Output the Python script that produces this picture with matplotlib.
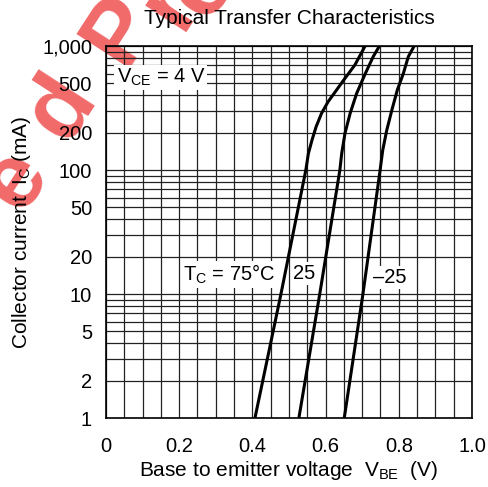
import matplotlib
matplotlib.use("Agg")
import matplotlib.pyplot as plt
from matplotlib.ticker import FixedLocator, FixedFormatter, LogLocator, NullFormatter

plt.rcParams['font.family'] = ['Liberation Sans', 'DejaVu Sans']
plt.rcParams['mathtext.fontset'] = 'custom'
plt.rcParams['mathtext.rm'] = 'Liberation Sans'
plt.rcParams['mathtext.it'] = 'Liberation Sans'

# Data
ic_75 = [1, 10, 100, 136, 175, 223, 287, 356, 442, 549, 703, 1000]
vbe_75 = [0.407, 0.478, 0.546, 0.553, 0.563, 0.574, 0.589, 0.607, 0.630, 0.653, 0.680, 0.708]
ic_25 = [1, 10, 100, 136, 198, 286, 416, 595, 820, 1000]
vbe_25 = [0.527, 0.584, 0.639, 0.644, 0.653, 0.667, 0.685, 0.708, 0.730, 0.747]
ic_m25 = [1, 10, 100, 144, 209, 304, 442, 595, 820, 1000]
vbe_m25 = [0.651, 0.702, 0.749, 0.756, 0.767, 0.781, 0.796, 0.812, 0.826, 0.842]

x_ticks = [0, 0.2, 0.4, 0.6, 0.8, 1.0]
x_tick_labels = ['0', '0.2', '0.4', '0.6', '0.8', '1.0']
y_ticks = [1, 2, 5, 10, 20, 50, 100, 200, 500, 1000]
y_tick_labels = ['1', '2', '5', '10', '20', '50', '100', '200', '500', '1,000']

# watermark letters (partially visible "…ed Pro…")
wm_letters = ['e', 'd', 'P', 'r', 'o']

FS = 14.5
FS_L = 15

fig = plt.figure(figsize=(4.89, 4.87), dpi=100, facecolor='white')
wm_pos = [(15, 180), (62, 108), (121, 30), (170, 4), (203, -14)]
for ch, (px, py) in zip(wm_letters, wm_pos):
    fig.text(px/489, 1-py/487, ch, color='#f05a5a', alpha=0.9, fontsize=66,
             fontweight='bold', rotation=57, rotation_mode='anchor',
             ha='center', va='center', zorder=1)

ax = fig.add_axes([106/489, 1-418/487, 366/489, 372/487])
ax.set_zorder(2)
ax.set_facecolor('none')
ax.set_xlim(0, 1.0)
ax.set_yscale('log')
ax.set_ylim(1, 1000)

# grid
ax.xaxis.set_minor_locator(FixedLocator([i*0.05 for i in range(21)]))
ax.yaxis.set_minor_locator(LogLocator(base=10, subs=range(1, 10)))
ax.yaxis.set_minor_formatter(NullFormatter())
ax.grid(True, which='minor', axis='both', color='#222222', lw=0.9)
ax.grid(True, which='major', axis='both', color='#222222', lw=0.9)

ax.xaxis.set_major_locator(FixedLocator(x_ticks))
ax.xaxis.set_major_formatter(FixedFormatter(x_tick_labels))
ax.yaxis.set_major_locator(FixedLocator(y_ticks))
ax.yaxis.set_major_formatter(FixedFormatter(y_tick_labels))
ax.tick_params(which='both', length=0)
ax.tick_params(axis='y', pad=10, labelsize=FS)
ax.tick_params(axis='x', pad=14, labelsize=FS)
for s in ax.spines.values():
    s.set_color('black')
    s.set_linewidth(1.2)

for xs, ys in ((vbe_75, ic_75), (vbe_25, ic_25), (vbe_m25, ic_m25)):
    ax.plot(xs, ys, color='black', lw=2.2, solid_capstyle='butt', zorder=3)

box = dict(facecolor='white', edgecolor='none', pad=1.5)
ax.text(0.150, 560, r'V$_{\mathregular{CE}}$ = 4 V', fontsize=FS, ha='center', va='center', bbox=box, zorder=4)
ax.text(0.336, 14.3, r'T$_{\mathregular{C}}$ = 75°C', fontsize=FS, ha='center', va='center', bbox=box, zorder=4)
ax.text(0.541, 14.6, '25', fontsize=FS, ha='center', va='center', bbox=box, zorder=4)
ax.text(0.776, 13.6, '\u201325', fontsize=FS, ha='center', va='center', bbox=box, zorder=4)

fig.text(289/489, 1-18/487, 'Typical Transfer Characteristics', fontsize=FS_L, ha='center', va='center', zorder=3)
fig.text(289/489, 1-470/487, r'Base to emitter voltage  V$_{\mathregular{BE}}$  (V)', fontsize=FS_L, ha='center', va='center', zorder=3)
fig.text(22/489, 1-232/487, r'Collector current  I$_{\mathregular{C}}$ (mA)', fontsize=FS_L, ha='center', va='center', rotation=90, zorder=3)

fig.savefig('out.png', dpi=100, facecolor='white')
